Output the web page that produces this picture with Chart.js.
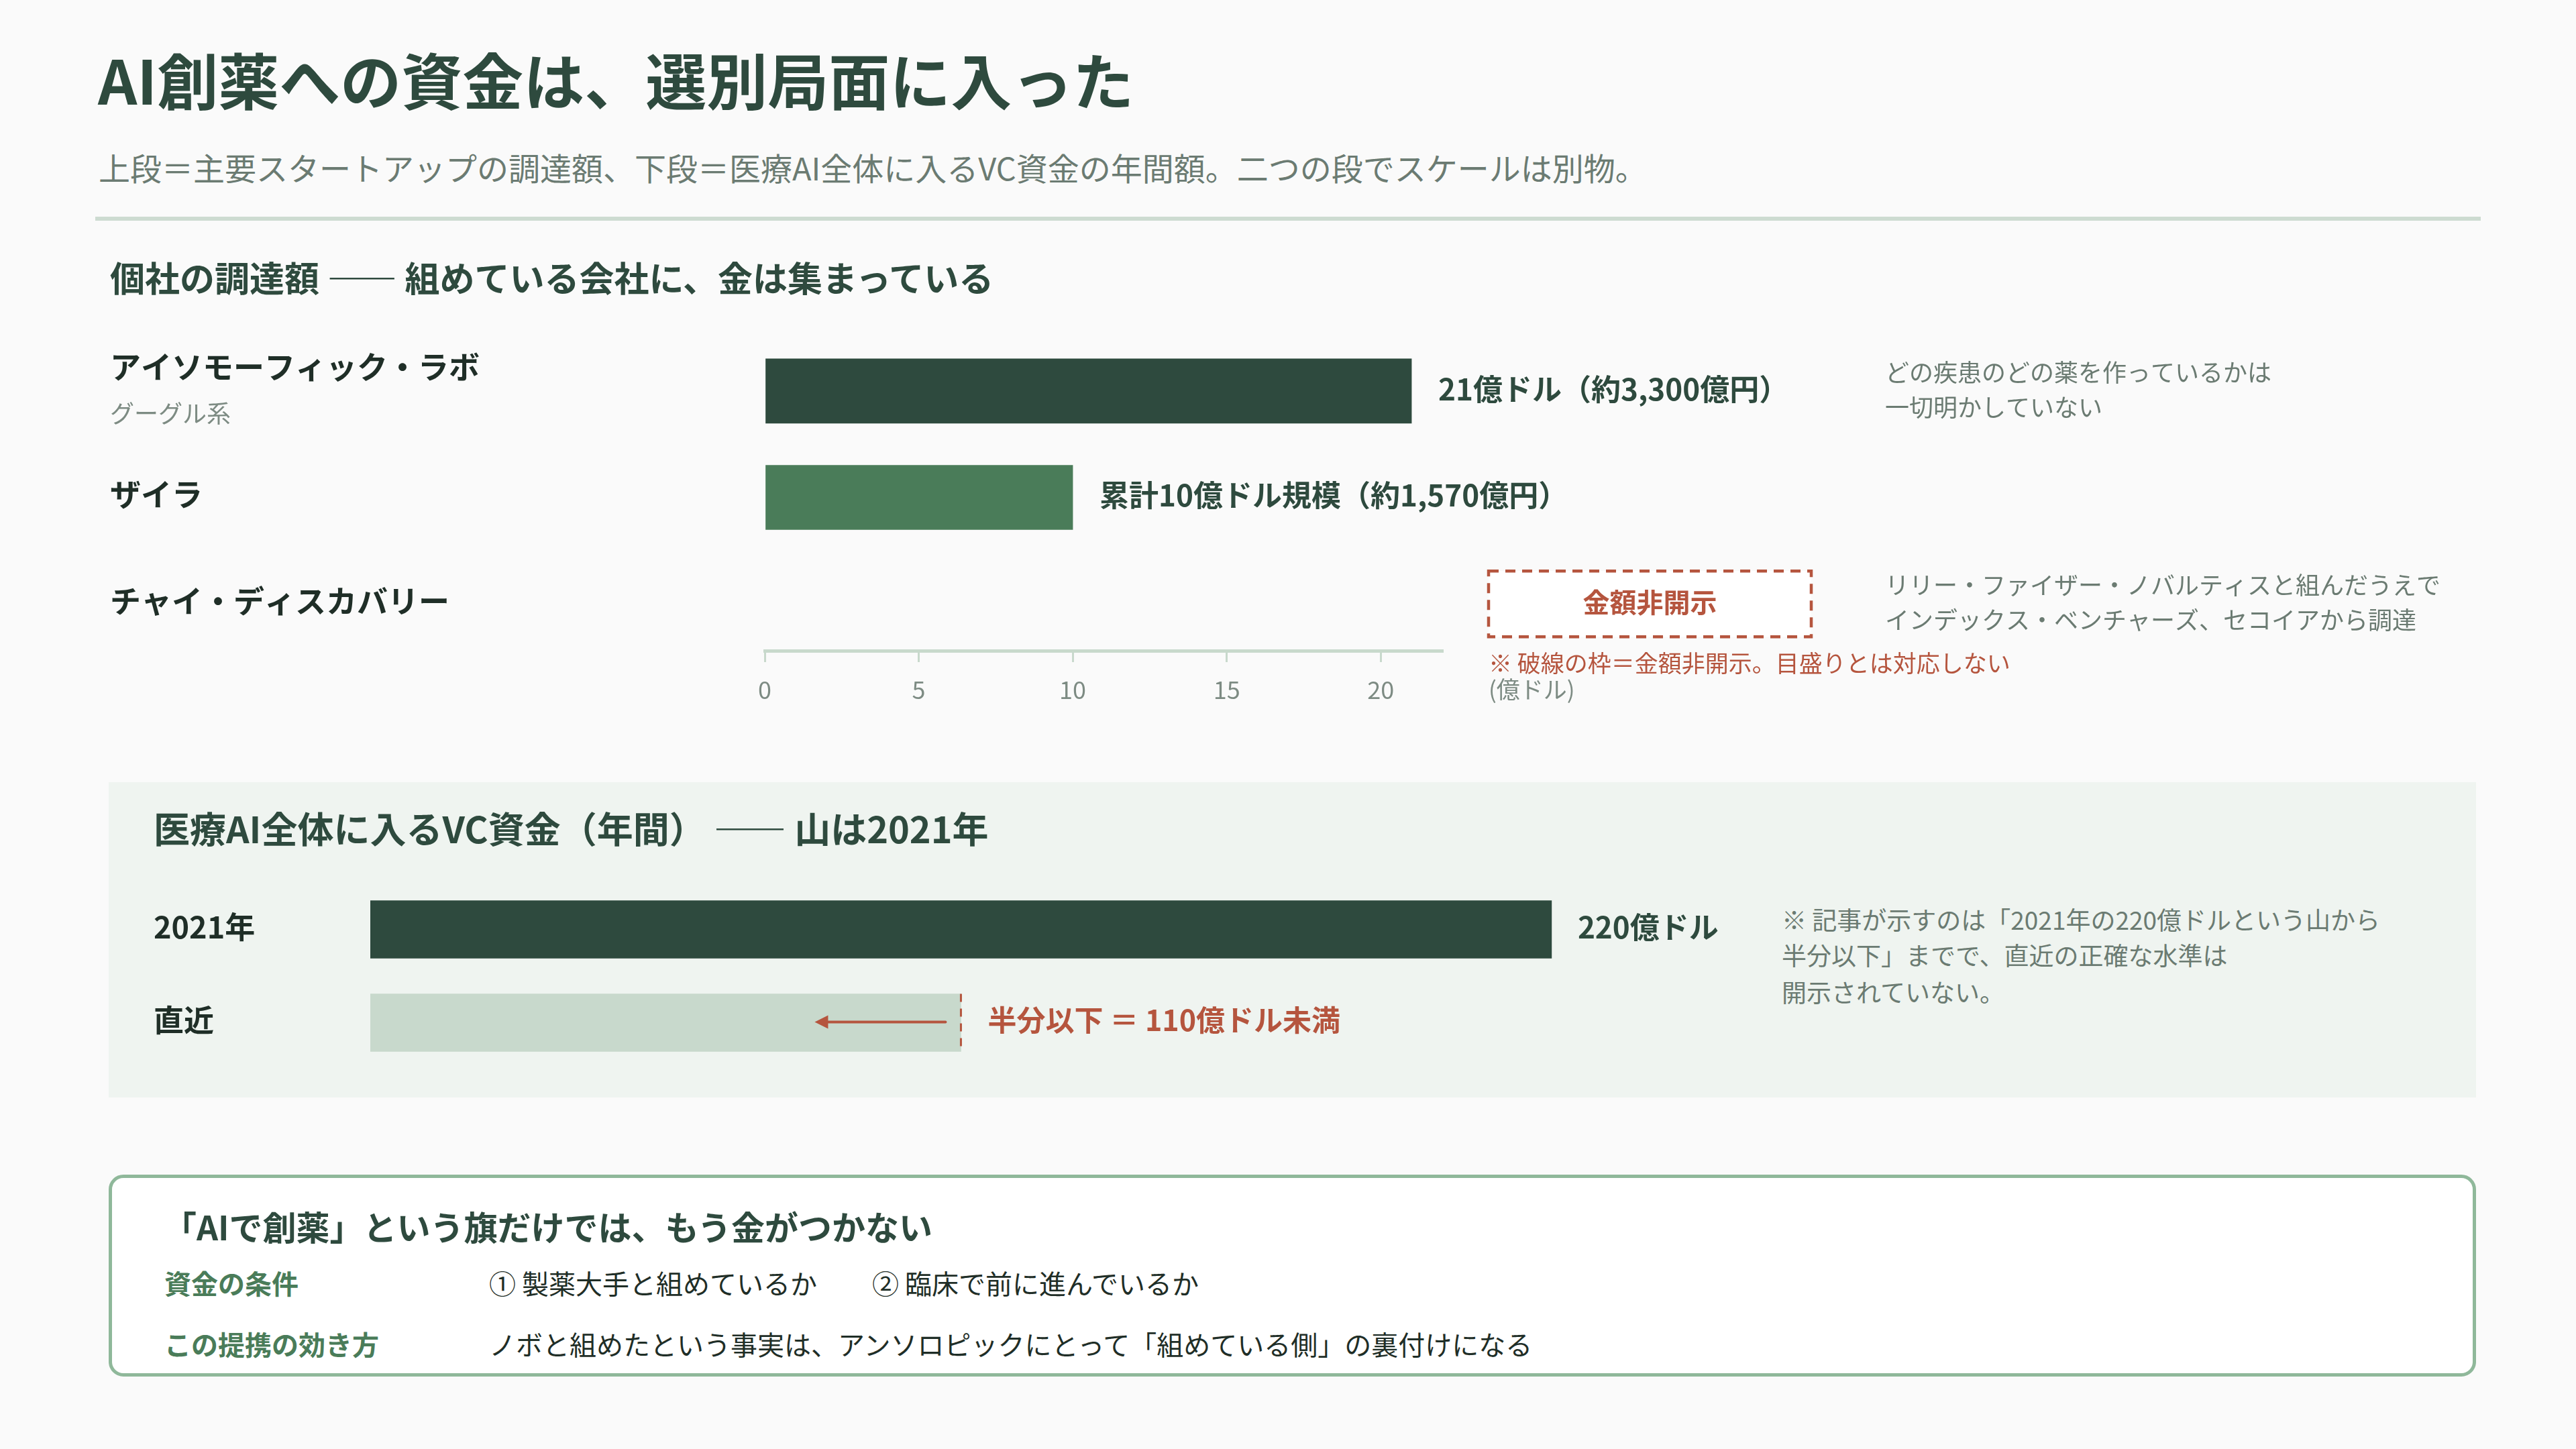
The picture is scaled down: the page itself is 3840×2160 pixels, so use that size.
<!DOCTYPE html>
<html lang="ja">
<head>
<meta charset="utf-8">
<script src="https://cdn.jsdelivr.net/npm/chart.js@4.4.1/dist/chart.umd.min.js"></script>
<style>
html,body{margin:0;padding:0;background:#fafafa;}
body{width:3840px;height:2160px;position:relative;overflow:hidden;font-family:"Noto Sans CJK JP","Noto Sans",sans-serif;}
.t{position:absolute;white-space:nowrap;}
canvas{position:absolute;left:0;}
</style>
</head>
<body>
<div class="t" style="left:146px;top:62px;font-size:91px;line-height:108px;font-weight:700;color:#2e4a3e;">AI創薬への資金は、選別局面に入った</div>
<div class="t" style="left:147px;top:221px;font-size:47px;line-height:56px;color:#6b7b72;">上段＝主要スタートアップの調達額、下段＝医療AI全体に入るVC資金の年間額。二つの段でスケールは別物。</div>
<div style="position:absolute;left:142px;top:323px;width:3556px;height:6px;background:#cddbd1;"></div>

<div class="t" style="left:164px;top:382px;font-size:52px;line-height:62px;font-weight:700;color:#2e4a3e;">個社の調達額 —— 組めている会社に、金は集まっている</div>

<canvas id="c1" width="3840" height="600" style="top:480px;"></canvas>

<div style="position:absolute;left:162px;top:1166px;width:3529px;height:470px;background:#eff4f0;"></div>
<div class="t" style="left:229px;top:1202px;font-size:54px;line-height:64px;font-weight:700;color:#2e4a3e;">医療AI全体に入るVC資金（年間） —— 山は2021年</div>
<div class="t" style="left:2656px;top:1348px;font-size:37px;line-height:44px;color:#6b7b72;">※ 記事が示すのは「2021年の220億ドルという山から</div>
<div class="t" style="left:2656px;top:1401px;font-size:37px;line-height:44px;color:#6b7b72;">半分以下」までで、直近の正確な水準は</div>
<div class="t" style="left:2656px;top:1456px;font-size:37px;line-height:44px;color:#6b7b72;">開示されていない。</div>

<canvas id="c2" width="3840" height="480" style="top:1160px;"></canvas>

<div style="position:absolute;left:162px;top:1751px;width:3519px;height:291px;border:5px solid #8fb89a;border-radius:22px;background:#ffffff;"></div>
<div class="t" style="left:243px;top:1797px;font-size:50px;line-height:60px;font-weight:700;color:#2e4a3e;">「AIで創薬」という旗だけでは、もう金がつかない</div>
<div class="t" style="left:245px;top:1888px;font-size:40px;line-height:48px;font-weight:700;color:#4a7c59;">資金の条件</div>
<div class="t" style="left:729px;top:1888px;font-size:40px;line-height:48px;color:#1f2e27;">① 製薬大手と組めているか</div>
<div class="t" style="left:1300px;top:1888px;font-size:40px;line-height:48px;color:#1f2e27;">② 臨床で前に進んでいるか</div>
<div class="t" style="left:245px;top:1979px;font-size:40px;line-height:48px;font-weight:700;color:#4a7c59;">この提携の効き方</div>
<div class="t" style="left:729px;top:1979px;font-size:40px;line-height:48px;color:#1f2e27;">ノボと組めたという事実は、アンソロピックにとって「組めている側」の裏付けになる</div>

<script>
// ---- data ----
const companies = ['アイソモーフィック・ラボ', 'ザイラ', 'チャイ・ディスカバリー'];
const companySubs = ['グーグル系', '', ''];
const raised = [21, 10, null]; // 億ドル (null = 非開示)
const raisedLabels = ['21億ドル（約3,300億円）', '累計10億ドル規模（約1,570億円）', '金額非開示'];
const companyNotes = [
  ['どの疾患のどの薬を作っているかは', '一切明かしていない'],
  [],
  ['リリー・ファイザー・ノバルティスと組んだうえで', 'インデックス・ベンチャーズ、セコイアから調達']
];
const xTickStep = 5;
const xMax1 = 22;
const axisUnit = '(億ドル)';
const axisNote = '※ 破線の枠＝金額非開示。目盛りとは対応しない';

const vcPeriods = ['2021年', '直近'];
const vcValues = [220, 110]; // 億ドル
const vcLabels = ['220億ドル', '半分以下 ＝ 110億ドル未満'];
const xMax2 = 250;

// ---- styles ----
const FAM = '"Noto Sans CJK JP","Noto Sans",sans-serif';
const DARK = '#2e4a3e', MID = '#4a7c59', LIGHT = '#c8d9cc', RED = '#b5553e', GRAY = '#6b7b72', INK = '#1f2e27';

const plugin1 = {
  id: 'p1',
  afterDatasetsDraw(chart) {
    const {ctx, chartArea, scales: {x, y}} = chart;
    ctx.save();
    ctx.textBaseline = 'middle';
    companies.forEach((name, i) => {
      const cy = y.getPixelForValue(i);
      ctx.textAlign = 'left';
      ctx.fillStyle = INK;
      ctx.font = `700 46px ${FAM}`;
      if (companySubs[i]) {
        ctx.fillText(name, 164, cy - 36);
        ctx.font = `400 36px ${FAM}`;
        ctx.fillStyle = '#7d8b83';
        ctx.fillText(companySubs[i], 164, cy + 33);
      } else {
        ctx.fillText(name, 164, cy - 5);
      }
      if (raised[i] != null) {
        const xe = x.getPixelForValue(raised[i]);
        ctx.font = `700 44px ${FAM}`;
        ctx.fillStyle = DARK;
        ctx.fillText(raisedLabels[i], xe + 40, cy - 3);
      } else {
        const bx = chartArea.right + 69, bw = 481, bh = 98;
        ctx.fillStyle = '#ffffff';
        ctx.fillRect(bx, cy - bh / 2, bw, bh);
        ctx.strokeStyle = RED;
        ctx.lineWidth = 4.5;
        ctx.setLineDash([15, 10]);
        ctx.strokeRect(bx, cy - bh / 2, bw, bh);
        ctx.setLineDash([]);
        ctx.textAlign = 'center';
        ctx.fillStyle = RED;
        ctx.font = `700 40px ${FAM}`;
        ctx.fillText(raisedLabels[i], bx + bw / 2, cy - 2);
      }
      ctx.textAlign = 'left';
      ctx.fillStyle = GRAY;
      ctx.font = `400 36px ${FAM}`;
      companyNotes[i].forEach((ln, k) => ctx.fillText(ln, 2810, cy - 28 + k * 52));
    });
    const ux = chartArea.right + 69;
    ctx.font = `400 35px ${FAM}`;
    ctx.fillStyle = RED;
    ctx.fillText(axisNote, ux, chartArea.bottom + 19);
    ctx.fillStyle = '#7d8b83';
    ctx.fillText(axisUnit, ux, chartArea.bottom + 58);
    ctx.restore();
  }
};

new Chart(document.getElementById('c1'), {
  type: 'bar',
  data: {
    datasets: [{
      data: raised.map((v, i) => ({x: v, y: i})),
      backgroundColor: [DARK, MID, 'rgba(0,0,0,0)'],
      barThickness: 96, borderWidth: 0
    }]
  },
  options: {
    indexAxis: 'y', responsive: false, animation: false,
    layout: {padding: {left: 1140, right: 1690, top: 23.5, bottom: 20}},
    plugins: {legend: {display: false}, tooltip: {enabled: false}},
    scales: {
      x: {
        type: 'linear', min: 0, max: xMax1, position: 'bottom',
        ticks: {stepSize: xTickStep, includeBounds: false, color: '#7d8b83', font: {family: FAM, size: 36}, padding: 20},
        grid: {drawOnChartArea: false, drawTicks: true, tickLength: 17, color: LIGHT, lineWidth: 3},
        border: {display: true, color: LIGHT, width: 5},
        afterFit: s => { s.height = 90; }
      },
      y: {type: 'linear', display: false, offset: false, min: -0.5, max: 2.44, reverse: true}
    }
  },
  plugins: [plugin1]
});

const plugin2 = {
  id: 'p2',
  afterDatasetsDraw(chart) {
    const {ctx, scales: {x, y}} = chart;
    const meta = chart.getDatasetMeta(0);
    ctx.save();
    ctx.textBaseline = 'middle';
    vcPeriods.forEach((p, i) => {
      const cy = y.getPixelForValue(i);
      ctx.textAlign = 'left';
      ctx.fillStyle = INK;
      ctx.font = `700 45px ${FAM}`;
      ctx.fillText(p, 229, cy - 4);
      const xe = x.getPixelForValue(vcValues[i]);
      if (i === 0) {
        ctx.font = `700 44px ${FAM}`;
        ctx.fillStyle = DARK;
        ctx.fillText(vcLabels[i], xe + 39, cy - 3);
      } else {
        const h = meta.data[i].height;
        ctx.strokeStyle = RED;
        ctx.lineWidth = 3;
        ctx.setLineDash([12, 10]);
        ctx.beginPath();
        ctx.moveTo(xe, cy - h / 2); ctx.lineTo(xe, cy + h / 2);
        ctx.stroke();
        ctx.setLineDash([]);
        // arrow
        ctx.lineWidth = 4;
        ctx.lineCap = 'round';
        ctx.beginPath();
        ctx.moveTo(xe - 23, cy - 1); ctx.lineTo(xe - 205, cy - 1);
        ctx.stroke();
        ctx.fillStyle = RED;
        ctx.beginPath();
        ctx.moveTo(xe - 218, cy - 1);
        ctx.lineTo(xe - 198, cy - 11);
        ctx.lineTo(xe - 198, cy + 9);
        ctx.closePath();
        ctx.fill();
        ctx.font = `700 43px ${FAM}`;
        ctx.fillText(vcLabels[i], xe + 40, cy - 4);
      }
    });
    ctx.restore();
  }
};

new Chart(document.getElementById('c2'), {
  type: 'bar',
  data: {
    labels: vcPeriods,
    datasets: [{data: vcValues, backgroundColor: [DARK, LIGHT], barThickness: 86, borderWidth: 0}]
  },
  options: {
    indexAxis: 'y', responsive: false, animation: false,
    layout: {padding: {left: 552, right: 1287, top: 156, bottom: 46}},
    plugins: {legend: {display: false}, tooltip: {enabled: false}},
    scales: {
      x: {display: false, min: 0, max: xMax2},
      y: {display: false}
    }
  },
  plugins: [plugin2]
});
</script>
</body>
</html>
